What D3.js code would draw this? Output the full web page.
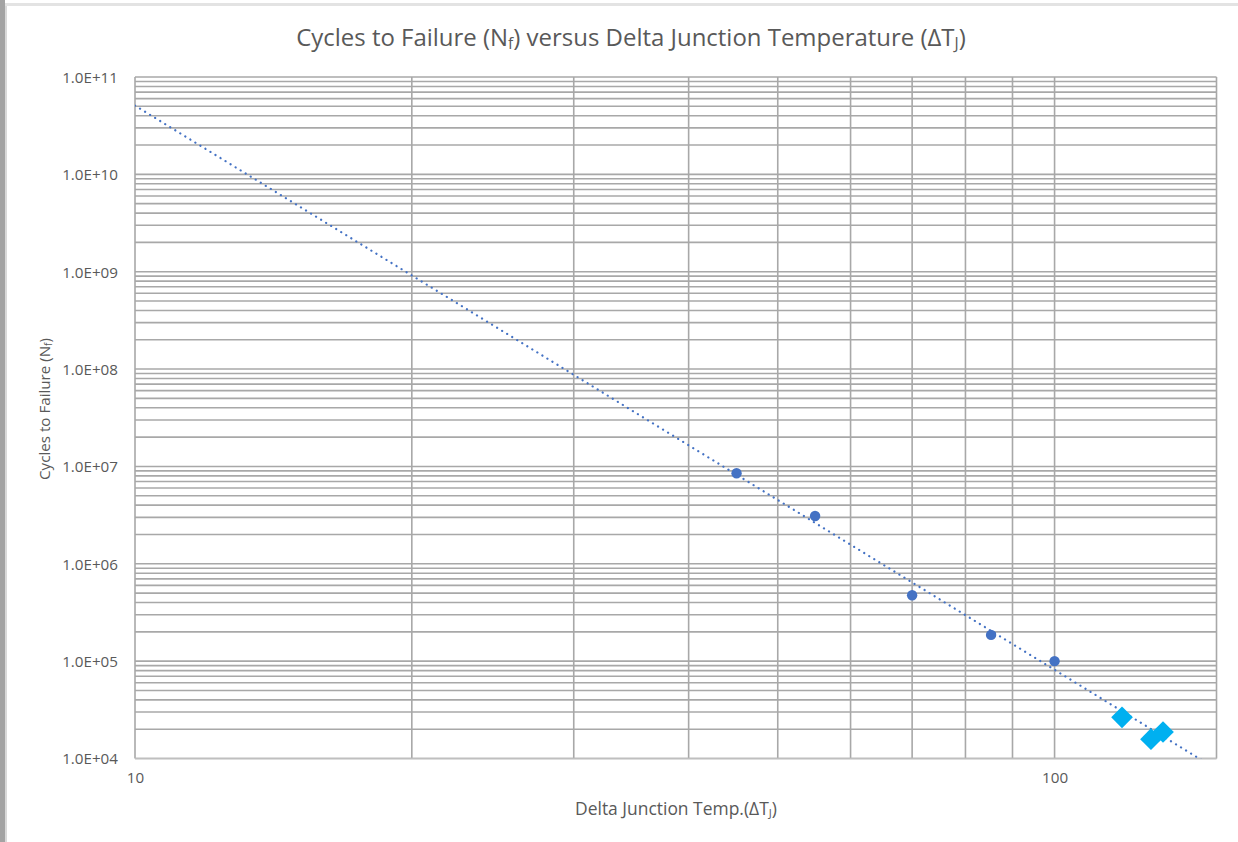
<!DOCTYPE html>
<html>
<head>
<meta charset="utf-8">
<script src="https://cdn.jsdelivr.net/npm/d3@7"></script>
<style>
  html, body { margin: 0; padding: 0; background: #fff; }
  svg { display: block; }
  text { font-family: "Open Sans", "Noto Sans", sans-serif; fill: #595959; }
</style>
</head>
<body>
<script>
// ---------------- data ----------------
const circleDT = [45.1, 54.9, 70, 85.3, 100];
const circleNf = [8.5e6, 3.1e6, 4.75e5, 1.86e5, 1.0e5];
const diamondDT = [118.4, 127.3, 131.2];
const diamondNf = [2.65e4, 1.58e4, 1.87e4];
const xTickValues = [10, 100];
const xTickLabels = ["10", "100"];
const yTickValues = [1e4, 1e5, 1e6, 1e7, 1e8, 1e9, 1e10, 1e11];
const yTickLabels = ["1.0E+04", "1.0E+05", "1.0E+06", "1.0E+07", "1.0E+08", "1.0E+09", "1.0E+10", "1.0E+11"];
const xDomain = [10, 150];
const yDomain = [1e4, 1e11];

// ---------------- layout ----------------
const W = 1238, H = 842;
const m = { left: 135, right: 1216.5, top: 77, bottom: 758.5 };
const tickFs = 15.2;

const svg = d3.select("body").append("svg").attr("width", W).attr("height", H);

// frame decorations (screenshot edges)
svg.append("rect").attr("x", 0).attr("y", 0).attr("width", W).attr("height", H).attr("fill", "#fff");
svg.append("rect").attr("x", 0).attr("y", 3).attr("width", W).attr("height", 3).attr("fill", "#e3e3e3");
svg.append("rect").attr("x", 0).attr("y", 0).attr("width", 5).attr("height", H).attr("fill", "#a3a3a3");
svg.append("rect").attr("x", 5).attr("y", 6).attr("width", 2).attr("height", H).attr("fill", "#d9d9d9");

const x = d3.scaleLog().domain(xDomain).range([m.left, m.right]);
const y = d3.scaleLog().domain(yDomain).range([m.bottom, m.top]);

const gridColor = "#a8a8a8";
const gridW = 1.6;

// horizontal gridlines (major + minor)
const yGrid = [];
for (let e = 4; e < 11; e++) for (let k = 1; k <= 9; k++) yGrid.push(k * Math.pow(10, e));
yGrid.push(1e11);
svg.append("g").selectAll("line").data(yGrid).join("line")
  .attr("x1", m.left).attr("x2", m.right)
  .attr("y1", d => y(d)).attr("y2", d => y(d))
  .attr("stroke", gridColor).attr("stroke-width", gridW);

// vertical gridlines
const xGrid = [];
for (let k = 1; k <= 9; k++) xGrid.push(k * 10);
xGrid.push(100);
xGrid.push(xDomain[1]);
svg.append("g").selectAll("line").data(xGrid).join("line")
  .attr("x1", d => x(d)).attr("x2", d => x(d))
  .attr("y1", m.top).attr("y2", m.bottom)
  .attr("stroke", gridColor).attr("stroke-width", gridW);

// bottom axis line
svg.append("line").attr("x1", m.left).attr("x2", m.right)
  .attr("y1", m.bottom).attr("y2", m.bottom)
  .attr("stroke", "#bfbfbf").attr("stroke-width", 1.6);

function fitText(sel, target) {
  const len = sel.node().getComputedTextLength();
  const fs = parseFloat(sel.attr("font-size"));
  sel.attr("font-size", fs * target / len);
  return fs * target / len;
}

// tick labels via axes
const yAxis = d3.axisLeft(y).tickValues(yTickValues)
  .tickFormat((d, i) => yTickLabels[i]).tickSize(0).tickPadding(17);
const gy = svg.append("g").attr("transform", `translate(${m.left},0)`).call(yAxis);
gy.select(".domain").remove();
gy.selectAll("text").style("font-size", tickFs + "px").style("fill", "#595959").attr("dy", "0.35em");

const xAxis = d3.axisBottom(x).tickValues(xTickValues)
  .tickFormat((d, i) => xTickLabels[i]).tickSize(0).tickPadding(14);
const gx = svg.append("g").attr("transform", `translate(0,${m.bottom})`).call(xAxis);
gx.select(".domain").remove();
gx.selectAll("text").style("font-size", tickFs + "px").style("fill", "#595959");

// trendline: power fit to the circle series (least squares in log-log space)
const lx = circleDT.map(Math.log10), ly = circleNf.map(Math.log10);
const mx = d3.mean(lx), my = d3.mean(ly);
const b = d3.sum(lx.map((v, i) => (v - mx) * (ly[i] - my))) / d3.sum(lx.map(v => (v - mx) ** 2));
const a = my - b * mx;
const trendX = [];
for (let i = 0; i <= 200; i++) trendX.push(Math.pow(10, Math.log10(xDomain[0]) + i / 200 * (Math.log10(xDomain[1]) - Math.log10(xDomain[0]))));

svg.append("clipPath").attr("id", "clip").append("rect")
  .attr("x", m.left).attr("y", m.top).attr("width", m.right - m.left).attr("height", m.bottom - m.top);

svg.append("path")
  .datum(trendX)
  .attr("clip-path", "url(#clip)")
  .attr("d", d3.line().x(d => x(d)).y(d => y(Math.pow(10, a + b * Math.log10(d)))))
  .attr("fill", "none").attr("stroke", "#4472c4").attr("stroke-width", 2.2)
  .attr("stroke-linecap", "round").attr("stroke-dasharray", "0.1 5.8");

// circles
svg.append("g").selectAll("circle").data(circleDT).join("circle")
  .attr("cx", d => x(d)).attr("cy", (d, i) => y(circleNf[i]))
  .attr("r", 5.2).attr("fill", "#4472c4");

// diamonds
const diamond = d3.symbol().type(d3.symbolSquare).size(235);
svg.append("g").selectAll("path").data(diamondDT).join("path")
  .attr("transform", (d, i) => `translate(${x(d)},${y(diamondNf[i])}) rotate(45)`)
  .attr("d", diamond).attr("fill", "#00b0f0");

// titles
const title = svg.append("text").attr("x", 631).attr("y", 46).attr("text-anchor", "middle")
  .attr("font-size", 20);
title.append("tspan").text("Cycles to Failure (N");
title.append("tspan").text("f").attr("dy", 3).attr("font-size", "0.65em");
title.append("tspan").text(") versus Delta Junction Temperature (ΔT").attr("dy", -3);
title.append("tspan").text("J").attr("dy", 3).attr("font-size", "0.65em");
title.append("tspan").text(")").attr("dy", -3);
fitText(title, 670);

const xt = svg.append("text").attr("x", 676).attr("y", 815).attr("text-anchor", "middle")
  .attr("font-size", 15);
xt.append("tspan").text("Delta Junction Temp.(ΔT");
xt.append("tspan").text("J").attr("dy", 2).attr("font-size", "0.65em");
xt.append("tspan").text(")").attr("dy", -2);
fitText(xt, 202);

const yt = svg.append("text").attr("transform", "translate(50,409) rotate(-90)").attr("text-anchor", "middle")
  .attr("font-size", 15);
yt.append("tspan").text("Cycles to Failure (N");
yt.append("tspan").text("f").attr("dy", 2).attr("font-size", "0.65em");
yt.append("tspan").text(")").attr("dy", -2);
fitText(yt, 142);
</script>
</body>
</html>
